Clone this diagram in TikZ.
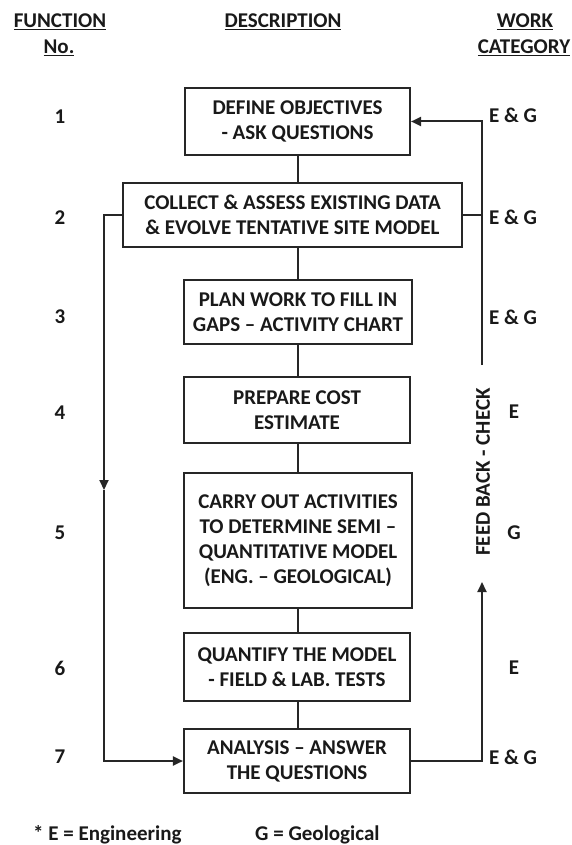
\documentclass[tikz,border=0pt]{standalone}
\usepackage{fontspec}
\setmainfont{Carlito}
\usetikzlibrary{arrows.meta}
\tikzset{
  txt/.style={font=\bfseries\fontsize{21}{25}\selectfont, text=black!90, inner sep=0pt, align=center},
  box/.style={txt, draw=black!85, line width=2.1pt, fill=white},
  conn/.style={draw=black!85, line width=2pt},
  tip/.style={-{Triangle[length=10pt,width=9pt]}},
}
\begin{document}
\begin{tikzpicture}[x=1pt,y=-1pt]
\useasboundingbox (0,0) rectangle (572,845);
% headers
\node[txt] (h1) at (60,22) {\underline{FUNCTION}};
\node[txt] (h1b) at (59,48) {\underline{No.}};
\node[txt] (h2) at (283,22) {\underline{DESCRIPTION}};
\node[txt] (h3) at (525,22) {\underline{WORK}};
\node[txt] (h3b) at (524,48) {\underline{CATEGORY}};
% boxes
\node[box, minimum width=225pt, minimum height=67pt] (b1) at (297.5,121.5) {DEFINE OBJECTIVES\\- ASK QUESTIONS};
\node[box, minimum width=339pt, minimum height=64pt] (b2) at (292.5,215) {COLLECT \& ASSESS EXISTING DATA\\\& EVOLVE TENTATIVE SITE MODEL};
\node[box, minimum width=228pt, minimum height=64pt] (b3) at (298,312) {PLAN WORK TO FILL IN\\GAPS – ACTIVITY CHART};
\node[box, minimum width=226pt, minimum height=66pt] (b4) at (297,410) {PREPARE COST\\ESTIMATE};
\node[box, minimum width=228pt, minimum height=135pt] (b5) at (298,540.5) {CARRY OUT ACTIVITIES\\TO DETERMINE SEMI –\\QUANTITATIVE MODEL\\(ENG. – GEOLOGICAL)};
\node[box, minimum width=226pt, minimum height=68pt] (b6) at (297,667) {QUANTIFY THE MODEL\\- FIELD \& LAB. TESTS};
\node[box, minimum width=226pt, minimum height=64pt] (b7) at (297,761) {ANALYSIS – ANSWER\\THE QUESTIONS};
% function numbers
\node[txt] (n1) at (60,117) {1};
\node[txt] (n2) at (60,218) {2};
\node[txt] (n3) at (60,317) {3};
\node[txt] (n4) at (60,413) {4};
\node[txt] (n5) at (60,533) {5};
\node[txt] (n6) at (60,668) {6};
\node[txt] (n7) at (60,757) {7};
% work categories
\node[txt] (w1) at (513,115) {E \& G};
\node[txt] (w2) at (513,217) {E \& G};
\node[txt] (w3) at (513,317) {E \& G};
\node[txt] (w4) at (514,412) {E};
\node[txt] (w5) at (514,533) {G};
\node[txt] (w6) at (514,668) {E};
\node[txt] (w7) at (513,757) {E \& G};
% vertical chain
\draw[conn] (b1.south -| 298,0) -- (298,0 |- b2.north);
\draw[conn] (b2.south -| 298,0) -- (298,0 |- b3.north);
\draw[conn] (b3.south -| 298,0) -- (298,0 |- b4.north);
\draw[conn] (b4.south -| 298,0) -- (298,0 |- b5.north);
\draw[conn] (b5.south -| 298,0) -- (298,0 |- b6.north);
\draw[conn] (b6.south -| 298,0) -- (298,0 |- b7.north);
% left bypass
\coordinate (lm) at (104,490);
\draw[conn,tip] (b2.west) -| (lm);
\draw[conn,tip] (lm) |- (b7.west);
% feedback
\coordinate (ra) at (482,582);
\coordinate (rt) at (482,365);
\node[txt, rotate=90] (fb) at (483,472) {FEED BACK - CHECK};
\draw[conn,tip] (b7.east) -| (ra);
\draw[conn,tip] (rt) |- (b1.east);
\draw[conn] (b2.east) -- (b2.east -| rt);
% footnote
\node[txt, anchor=west] (f1) at (33,835) {* E = Engineering};
\node[txt, anchor=west] (f2) at (255,835) {G = Geological};
\end{tikzpicture}
\end{document}
